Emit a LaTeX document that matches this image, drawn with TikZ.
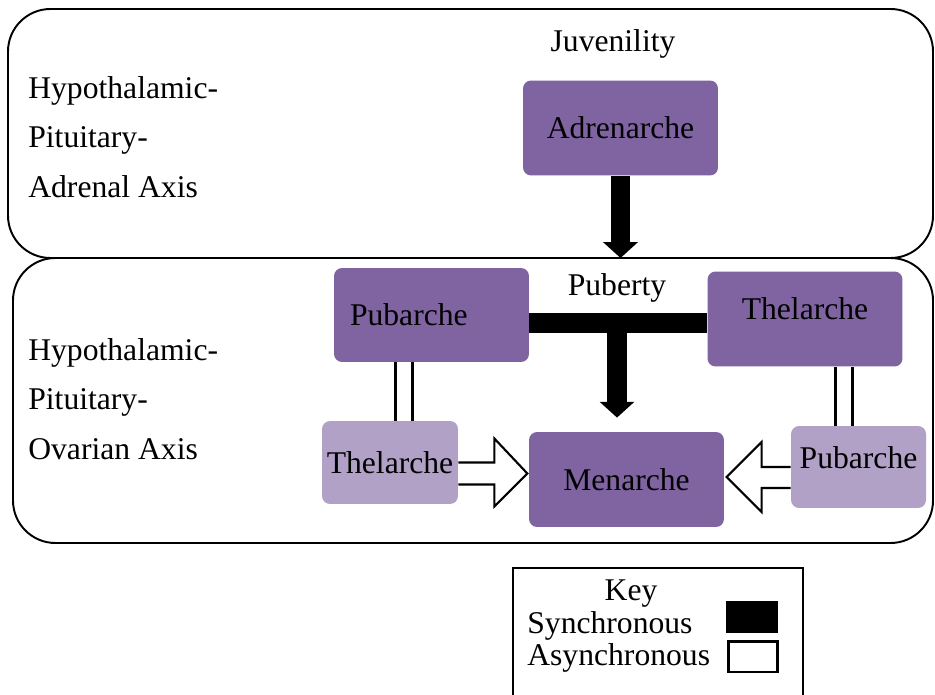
\documentclass[tikz,border=0pt]{standalone}
\usepackage{fontspec}
\setmainfont{Liberation Serif}
\usetikzlibrary{arrows.meta}
\definecolor{darkpurple}{RGB}{128,100,162}
\definecolor{lightpurple}{RGB}{178,161,199}
\tikzset{
  axisbox/.style={line width=1.1pt, rounded corners=0.85cm},
  stage/.style={fill=darkpurple, rounded corners=0.16cm, minimum width=3.9cm, minimum height=1.9cm, inner sep=2pt},
  substage/.style={fill=lightpurple, rounded corners=0.16cm, inner sep=2pt},
  sync/.style={line width=11.3pt, -{Triangle[length=9pt,width=19.3pt]}},
  syncbar/.style={line width=11.3pt},
  async/.style={draw=black, fill=white, line width=1.2pt, line join=miter},
  dbl/.style={double, double distance=7.9pt, line width=1.5pt},
}

\begin{document}
\begin{tikzpicture}[x=0.02cm, y=-0.02cm, font=\fontsize{18}{28.3}\selectfont]
    \useasboundingbox (0,0) rectangle (935,695);
    % the two axes
    \draw[axisbox] (8,9) rectangle (933,258);
    \draw[axisbox] (13,258) rectangle (933,543);
    \node[anchor=west, align=left, inner sep=0] (hpa) at (28,137) {Hypothalamic-\\Pituitary-\\Adrenal Axis};
    \node[anchor=west, align=left, inner sep=0] (hpo) at (28,399) {Hypothalamic-\\Pituitary-\\Ovarian Axis};
    \node (juv) at (613,44) {Juvenility};
    \node (pub) at (617,288) {Puberty};

    % stages
    \node[stage] (adren) at (620.5,128) {Adrenarche};
    \node[stage, minimum height=1.88cm, text width=3.26cm, inner xsep=0.32cm, align=left] (pubD) at (431.5,315) {Pubarche};
    \node[stage, text depth=12pt] (theD) at (805,319) {Thelarche};
    \node[stage] (men) at (626.5,479.5) {Menarche};
    \node[substage, minimum width=2.72cm, minimum height=1.66cm] (thL) at (390,462.5) {Thelarche};
    \node[substage, minimum width=2.7cm, minimum height=1.64cm, text depth=11pt] (puL) at (858.5,467) {Pubarche};

    % synchronous
    \coordinate (split) at (0,258);
    \draw[sync] (adren.south) -- (adren.south |- split);
    \coordinate (tee) at (617,323);
    \draw[syncbar] (pubD.east |- tee) -- (theD.west |- tee);
    \draw[sync, shorten >=8pt] (tee) -- (tee |- men.north);

    % paired stages
    \coordinate (leftpair) at (404,0);
    \coordinate (rightpair) at (844,0);
    \draw[dbl] (pubD.south -| leftpair) -- (thL.north -| leftpair);
    \draw[dbl] (theD.south -| rightpair) -- (puL.north -| rightpair);

    % asynchronous
    \draw[async] (thL.east) -- ++(36,0) -- ++(0,-24) -- ++(33,35) -- ++(-33,33) -- ++(0,-22) -- ++(-36,0);
    \draw[async] (puL.west) -- ++(-29,0) -- ++(0,-25) -- ++(-35,35) -- ++(35,35) -- ++(0,-24) -- ++(29,0);

    % key
    \draw[line width=1.4pt] (513,695) -- (513,568) -- (803,568) -- (803,695);
    \node (key) at (631,594) {Key};
    \node[anchor=west, inner sep=0] (syncT) at (527,626) {Synchronous};
    \node[anchor=west, inner sep=0] (asyncT) at (527,658) {Asynchronous};
    \node[fill=black, minimum width=1.04cm, minimum height=0.64cm, inner sep=0] (syncS) at (752,617) {};
    \node[draw, line width=1.7pt, minimum width=0.98cm, minimum height=0.62cm, inner sep=0] (asyncS) at (752.5,656.5) {};
\end{tikzpicture}
\end{document}
